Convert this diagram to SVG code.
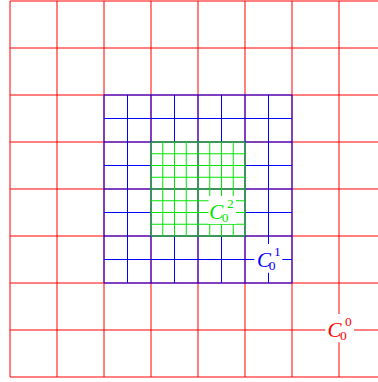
<svg xmlns="http://www.w3.org/2000/svg" width="378" height="382" viewBox="0 0 378 382">
<style>
.r{stroke:#ff0000;stroke-width:1;fill:none}
.b{stroke:#0000ff;stroke-width:1;fill:none}
.g{stroke:#00e600;stroke-width:1;fill:none}
.bg{fill:#ffffff;stroke:none}
.m{font-family:"Liberation Serif","Times New Roman",serif;font-size:21px;font-style:italic}
.s{font-family:"Liberation Serif","Times New Roman",serif;font-size:13.5px}
</style>
<rect x="0" y="0" width="378" height="382" fill="#ffffff"/>
<g id="grid-red">
<path class="r" d="M10 1V377M57 1V377M104 1V377M151 1V377M198 1V377M245 1V377M292 1V377M339 1V377M10 1H378M10 48H378M10 95H378M10 142H378M10 189H378M10 236H378M10 283H378M10 330H378M10 377H378"/>
</g>
<g id="grid-blue">
<path class="b" d="M104 95V283M127.5 95V283M151 95V283M174.5 95V283M198 95V283M221.5 95V283M245 95V283M268.5 95V283M292 95V283M104 95H292M104 118.5H292M104 142H292M104 165.5H292M104 189H292M104 212.5H292M104 236H292M104 259.5H292M104 283H292"/>
</g>
<g id="grid-green">
<path class="g" d="M151 142V236M162.75 142V236M174.5 142V236M186.25 142V236M198 142V236M209.75 142V236M221.5 142V236M233.25 142V236M245 142V236M151 142H245M151 153.75H245M151 165.5H245M151 177.25H245M151 189H245M151 200.75H245M151 212.5H245M151 224.25H245M151 236H245"/>
</g>
<g id="label-C0-0" fill="#ff0000">
<rect class="bg" x="325.3" y="314" width="28.7" height="28.3"/>
<text class="m" x="327.5" y="336.8">C</text>
<text class="s" x="340" y="339.5">0</text>
<text class="s" x="345" y="325.8">0</text>
</g>
<g id="label-C0-1" fill="#0000ff">
<rect class="bg" x="254.3" y="244" width="28" height="28.7"/>
<text class="m" x="256.9" y="266.8">C</text>
<text class="s" x="268.8" y="269.5">0</text>
<text class="s" x="274" y="256">1</text>
</g>
<g id="label-C0-2" fill="#00e600">
<rect class="bg" x="208.5" y="196" width="27.5" height="28"/>
<text class="m" x="209.2" y="218.8">C</text>
<text class="s" x="221.8" y="221.5">0</text>
<text class="s" x="227" y="208.2">2</text>
</g>
</svg>
